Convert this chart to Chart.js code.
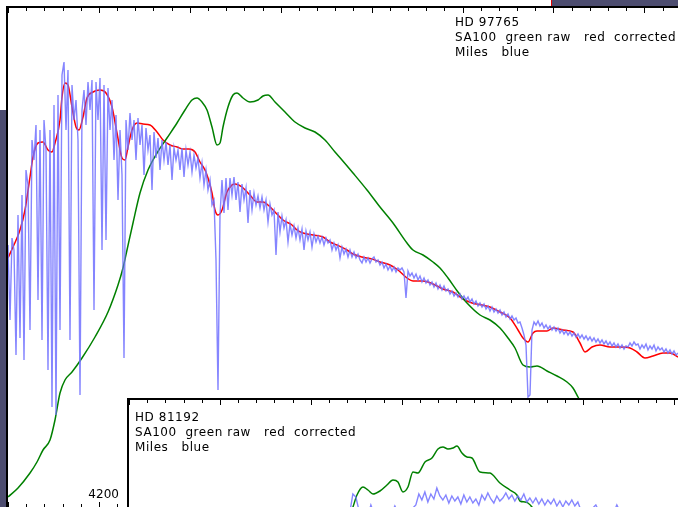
<!DOCTYPE html>
<html>
<head>
<meta charset="utf-8">
<script src="https://cdn.jsdelivr.net/npm/chart.js@4/dist/chart.umd.min.js"></script>
<style>
  html, body { margin: 0; padding: 0; }
  body { width: 678px; height: 507px; overflow: hidden; position: relative; background: #fff; font-family: "DejaVu Sans", sans-serif; }
  .desk { position: absolute; background: #4d4d70; }
  .frame { position: absolute; background: #fff; border-left: 2px solid #000; border-top: 2px solid #000; }
  .note { position: absolute; font-size: 12px; line-height: 15px; letter-spacing: 0.55px; white-space: pre; color: #000; }
  canvas { position: absolute; }
</style>
</head>
<body>
<div class="desk" style="left:0;top:110px;width:6px;height:397px"></div>
<div class="desk" style="left:552px;top:0;width:126px;height:6px"></div>
<div style="position:absolute;left:551px;top:0;width:1px;height:6px;background:#e00000"></div>

<div class="frame" style="left:6px;top:6px;width:700px;height:520px"></div>
<canvas id="mainChart" width="670" height="500" style="left:8px;top:8px"></canvas>
<div class="note" style="left:455px;top:15px">HD 97765
SA100  green raw   red  corrected
Miles   blue</div>

<div class="frame" style="left:127px;top:398px;width:600px;height:200px"></div>
<canvas id="insetChart" width="549" height="500" style="left:129px;top:400px"></canvas>
<div class="note" style="left:135px;top:410px">HD 81192
SA100  green raw   red  corrected
Miles   blue</div>

<script>
// HD 97765 — wavelength in Angstrom, flux in counts
const milesStart = 4100;   // first Miles sample
const milesStep = 2.2;     // Miles sampling, Angstrom
const milesFlux = [
  263, 188, 270, 258, 153, 293, 170, 313, 148, 338, 323, 178, 368, 348, 383, 208,
  378, 168, 388, 358, 138, 378, 101, 403, 93, 413, 178, 433, 446, 378, 438, 168,
  423, 388, 408, 368, 113, 398, 418, 383, 426, 398, 428, 198, 426, 388, 430, 258,
  423, 268, 420, 378, 408, 348, 393, 308, 378, 333, 150, 388, 358, 395, 368, 388,
  348, 390, 363, 383, 333, 380, 358, 373, 318, 376, 350, 370, 338, 368, 348, 366,
  343, 363, 328, 360, 348, 358, 338, 360, 331, 358, 343, 356, 336, 353, 340, 350,
  330, 345, 323, 338, 318, 328, 303, 308, 248, 118, 293, 328, 295, 330, 298, 330,
  313, 331, 308, 326, 296, 324, 308, 320, 285, 318, 298, 315, 303, 312, 300, 311,
  298, 308, 286, 304, 293, 298, 253, 296, 276, 292, 280, 288, 266, 284, 273, 282,
  270, 280, 268, 279, 258, 277, 268, 276, 261, 274, 266, 272, 265, 271, 263, 270,
  265, 268, 258, 265, 258, 263, 250, 261, 254, 259, 251, 258, 251, 256, 250, 254,
  248, 245, 251, 246, 250, 245, 249, 251, 246, 248, 243, 246, 240, 244, 238, 242,
  237, 241, 236, 240, 238, 240, 236, 210, 237, 232, 235, 230, 234, 228, 232, 226,
  230, 225, 228, 223, 226, 221, 225, 219, 223, 218, 222, 217, 219, 214, 217, 212,
  215, 211, 214, 209, 212, 208, 211, 206, 209, 204, 207, 202, 205, 201, 204, 199,
  202, 197, 201, 196, 199, 195, 198, 193, 196, 191, 194, 189, 192, 188, 190, 185,
  186, 180, 173, 163, 111, 113, 178, 186, 183, 187, 182, 185, 180, 183, 179, 182,
  178, 181, 177, 180, 175, 178, 174, 177, 173, 176, 172, 175, 171, 174, 170, 173,
  169, 172, 168, 171, 167, 170, 166, 169, 165, 168, 164, 167, 163, 166, 162, 165,
  161, 164, 160, 163, 159, 162, 161, 165, 162, 166, 163, 164, 159, 163, 160, 164,
  158, 162, 159, 163, 157, 161, 158, 160, 156, 159, 155, 158, 154, 157, 153, 155
];

const rawWave = [
  4100, 4111, 4124.2, 4131.9, 4138.5, 4146.2, 4151.7, 4157.2, 4162.7, 4170.4,
  4181.4, 4195.7, 4210, 4221, 4226.5, 4230.9, 4237.5, 4245.2, 4254, 4263.9,
  4274.9, 4285.9, 4294.7, 4302.4, 4307.9, 4313.4, 4318.9, 4324.4, 4329.9, 4333.2,
  4336.5, 4342, 4347.5, 4351.9, 4358.5, 4366.2, 4375, 4380.5, 4386, 4393.7,
  4404.7, 4415.7, 4426.7, 4437.7, 4448.7, 4459.7, 4467.4, 4479.5, 4494.9, 4509.2,
  4523.5, 4538.9, 4545.5, 4556.5, 4567.5, 4575.2, 4584, 4595, 4604.9, 4619.2,
  4630.2, 4641.2, 4650, 4657.7, 4666.5, 4674.2, 4681.9, 4692.9, 4703.9, 4714.9,
  4721.5, 4727, 4734.7
];
const rawFlux = [
  11, 20, 35, 46, 58, 68, 88, 115, 128, 136,
  150, 171, 196, 223, 240, 258, 285, 315, 338, 355,
  370, 385, 398, 408, 410, 406, 398, 381, 363, 365,
  381, 401, 413, 415, 410, 406, 408, 412, 413, 406,
  396, 386, 380, 376, 368, 356, 348, 335, 318, 301,
  285, 265, 258, 253, 246, 240, 230, 216, 205, 193,
  188, 180, 170, 160, 143, 141, 142, 137, 132, 126,
  120, 111, 98
];

const corrWave = [
  4100, 4105.5, 4113.2, 4118.7, 4124.2, 4127.5, 4133, 4138.5, 4144, 4148.4,
  4151.7, 4157.2, 4159.4, 4162.7, 4166, 4170.4, 4174.8, 4178.1, 4182.5, 4186.9,
  4193.5, 4201.2, 4207.8, 4214.4, 4219.9, 4225.4, 4228.7, 4232, 4236.4, 4241.9,
  4248.5, 4256.2, 4263.9, 4270.5, 4278.2, 4285.9, 4292.5, 4299.1, 4305.7, 4311.2,
  4316.7, 4320, 4324.4, 4327.7, 4331, 4335.4, 4340.9, 4346.4, 4349.7, 4357.4,
  4366.2, 4373.9, 4380.5, 4386, 4393.7, 4402.5, 4412.4, 4417.9, 4424.5, 4435.5,
  4446.5, 4454.2, 4461.9, 4472.9, 4479.5, 4489.4, 4500.4, 4509.2, 4520.2, 4529,
  4538.9, 4545.5, 4556.5, 4567.5, 4578.5, 4589.5, 4600.5, 4610.4, 4621.4, 4630.2,
  4641.2, 4652.2, 4661, 4666.5, 4672, 4677.5, 4681.9, 4692.9, 4699.5, 4710.5,
  4721.5, 4729.2, 4734.7, 4742.4, 4751.2, 4762.2, 4773.2, 4784.2, 4791.9, 4800.7,
  4809.5, 4820.5, 4828.2, 4837
];
const corrFlux = [
  250, 261, 278, 298, 331, 351, 365, 366, 358, 356,
  365, 388, 411, 425, 423, 401, 381, 378, 391, 410,
  416, 418, 415, 401, 375, 350, 348, 361, 378, 385,
  384, 383, 376, 368, 363, 361, 359, 359, 356, 346,
  338, 330, 315, 298, 293, 298, 316, 323, 324, 321,
  313, 306, 306, 303, 296, 288, 283, 278, 275, 273,
  271, 266, 263, 258, 254, 251, 249, 246, 243, 238,
  230, 227, 227, 224, 219, 216, 209, 205, 203, 201,
  196, 190, 178, 170, 166, 175, 177, 177, 180, 178,
  176, 165, 156, 161, 163, 161, 161, 160, 156, 150,
  152, 155, 155, 151
];

// HD 81192 — only the upper part of this panel is on screen
const insetMilesStart = 4343;
const insetMilesStep = 3.3;
const insetMilesFlux = [
  388, 406, 403, 390, 386, 391, 384, 395, 387, 390, 385, 389, 386, 391, 387, 394,
  388, 391, 386, 390, 387, 392, 395, 406, 400, 408, 398, 406, 401, 412, 404, 400,
  405, 397, 404, 399, 403, 396, 405, 398, 403, 397, 401, 395, 405, 400, 407, 401,
  397, 404, 399, 402, 407, 401, 405, 399, 404, 400, 406, 398, 402, 397, 402, 396,
  401, 395, 400, 396, 401, 394, 399, 393, 399, 395, 400, 394, 398, 390, 388, 391,
  387, 392, 395, 389, 387, 390, 386, 391, 388, 395, 389, 386
];
const insetRawWave = [
  4343.1, 4346.4, 4350.8, 4357.4, 4362.9, 4368.4, 4376.1, 4383.8, 4390.4, 4395.9,
  4401.4, 4406.9, 4412.4, 4417.9, 4425.6, 4433.3, 4439.9, 4445.4, 4450.9, 4456.4,
  4460.8, 4466.3, 4471.8, 4477.3, 4486.1, 4497.1, 4508.1, 4519.1, 4526.8, 4530.1,
  4535.6, 4538.9, 4543.3, 4547.7
];
const insetRawFlux = [
  385, 393, 405, 413, 410, 406, 409, 415, 420, 418,
  408, 413, 428, 427, 438, 442, 451, 453, 451, 452,
  454, 447, 443, 442, 428, 427, 417, 410, 405, 399,
  398, 397, 393, 385
];

const majorStep = 100;
const minorStep = 20;

function pairs(xs, ys) {
  return ys.map((y, i) => ({ x: xs[i], y: y }));
}
function sampled(start, step, ys) {
  return ys.map((y, i) => ({ x: start + i * step, y: y }));
}

// tick marks along the frame edges, placed through the x scale
const frameTicks = {
  id: 'frameTicks',
  afterDraw(chart, args, opts) {
    const ctx = chart.ctx;
    const xs = chart.scales.x;
    const top = chart.chartArea.top;
    const bottom = chart.chartArea.bottom;
    ctx.save();
    ctx.strokeStyle = '#000';
    ctx.lineWidth = 1;
    for (let w = xs.min - (xs.min % minorStep); w <= xs.max; w += minorStep) {
      if (w < xs.min) continue;
      const px = Math.round(xs.getPixelForValue(w)) + 0.5;
      const len = (w % majorStep === 0) ? 5 : 3;
      ctx.beginPath();
      ctx.moveTo(px, top);
      ctx.lineTo(px, top + len);
      if (opts.bottom) {
        ctx.moveTo(px, bottom - 1);
        ctx.lineTo(px, bottom - 1 - len);
      }
      ctx.stroke();
    }
    if (opts.label) {
      ctx.fillStyle = '#000';
      ctx.font = '12px "DejaVu Sans", sans-serif';
      ctx.textAlign = 'right';
      ctx.textBaseline = 'alphabetic';
      ctx.fillText(String(opts.label), xs.getPixelForValue(opts.label) + 20, bottom - 10);
    }
    ctx.restore();
  }
};

function baseOptions(xMax, tickOpts) {
  return {
    responsive: false,
    animation: false,
    events: [],
    layout: { padding: 0 },
    elements: { point: { radius: 0 }, line: { tension: 0 } },
    plugins: { legend: { display: false }, tooltip: { enabled: false }, frameTicks: tickOpts },
    scales: {
      x: { type: 'linear', min: 4100, max: xMax, display: false },
      y: { min: 0, max: 500, display: false }
    }
  };
}

const milesColor = 'rgba(112,112,255,0.85)';

new Chart(document.getElementById('mainChart').getContext('2d'), {
  type: 'line',
  data: {
    datasets: [
      { label: 'Miles', data: sampled(milesStart, milesStep, milesFlux), borderColor: milesColor, borderWidth: 1.4 },
      { label: 'SA100 raw', data: pairs(rawWave, rawFlux), borderColor: '#008000', borderWidth: 1.5, cubicInterpolationMode: 'monotone' },
      { label: 'SA100 corrected', data: pairs(corrWave, corrFlux), borderColor: '#ff0000', borderWidth: 1.5, cubicInterpolationMode: 'monotone' }
    ]
  },
  options: baseOptions(4837, { bottom: true, label: 4200 }),
  plugins: [frameTicks]
});

new Chart(document.getElementById('insetChart').getContext('2d'), {
  type: 'line',
  data: {
    datasets: [
      { label: 'Miles', data: sampled(insetMilesStart, insetMilesStep, insetMilesFlux), borderColor: milesColor, borderWidth: 1.4 },
      { label: 'SA100 raw', data: pairs(insetRawWave, insetRawFlux), borderColor: '#008000', borderWidth: 1.5, cubicInterpolationMode: 'monotone' }
    ]
  },
  options: baseOptions(4704, { bottom: false, label: null }),
  plugins: [frameTicks]
});
</script>
</body>
</html>
